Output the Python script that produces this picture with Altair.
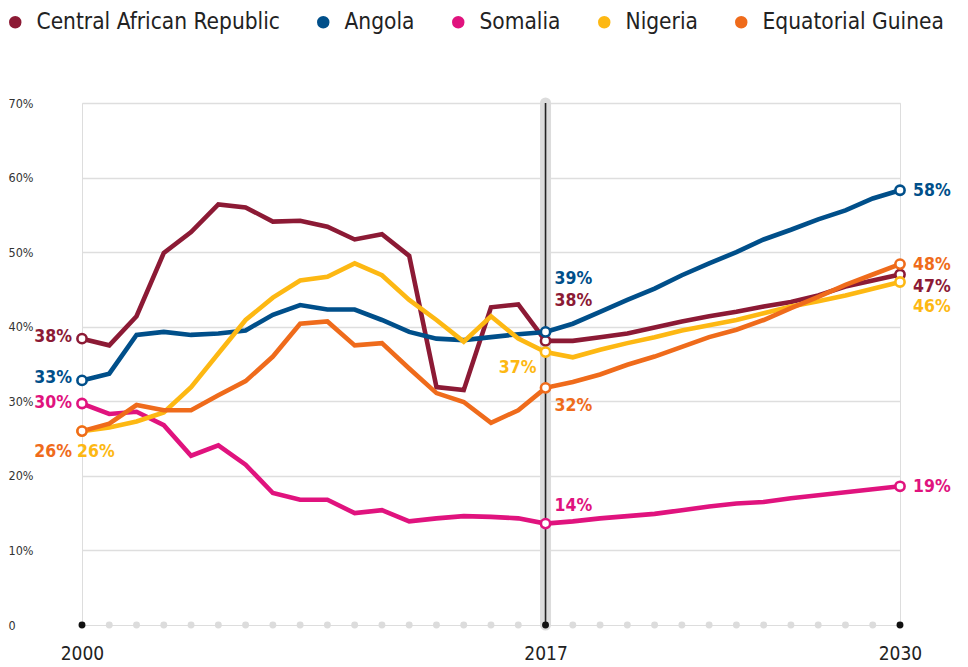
import altair as alt
import pandas as pd

# ---------------- data ----------------
years = list(range(2000, 2031))
countries = ["Central African Republic", "Angola", "Somalia", "Nigeria", "Equatorial Guinea"]
colors = ["#8c1a35", "#004f8a", "#e0137e", "#fdb813", "#ef6b1b"]

car = [38.4, 37.5, 41.4, 49.9, 52.7, 56.4, 56.0, 54.1, 54.2, 53.4, 51.7, 52.4, 49.5, 31.9, 31.5, 42.6,
       43.0, 38.1, 38.1, 38.6, 39.1, 39.9, 40.7, 41.4, 42.0, 42.7, 43.3, 44.2, 45.4, 46.2, 47.0]
angola = [32.8, 33.7, 38.9, 39.3, 38.9, 39.1, 39.5, 41.6, 42.9, 42.3, 42.3, 40.9, 39.3, 38.4, 38.2, 38.6,
          39.0, 39.3, 40.4, 42.0, 43.6, 45.1, 46.9, 48.5, 50.0, 51.7, 53.0, 54.4, 55.6, 57.2, 58.3]
somalia = [29.7, 28.3, 28.6, 26.8, 22.7, 24.1, 21.5, 17.7, 16.8, 16.8, 15.0, 15.4, 13.9, 14.3, 14.6, 14.5,
           14.3, 13.6, 13.9, 14.3, 14.6, 14.9, 15.4, 15.9, 16.3, 16.5, 17.0, 17.4, 17.8, 18.2, 18.6]
nigeria = [26.0, 26.5, 27.3, 28.5, 31.9, 36.4, 40.9, 43.9, 46.2, 46.7, 48.5, 46.9, 43.6, 40.9, 38.0, 41.4,
           38.4, 36.6, 35.9, 36.9, 37.8, 38.6, 39.5, 40.2, 40.9, 41.8, 42.7, 43.4, 44.2, 45.1, 46.0]
eq_guinea = [26.0, 27.0, 29.5, 28.8, 28.8, 30.8, 32.7, 36.0, 40.4, 40.7, 37.5, 37.8, 34.4, 31.1, 29.9, 27.1,
             28.8, 31.8, 32.6, 33.6, 34.9, 36.0, 37.3, 38.6, 39.6, 40.9, 42.5, 44.0, 45.6, 47.0, 48.4]

series = [car, angola, somalia, nigeria, eq_guinea]
key_years = [2000, 2017, 2030]
y_ticks = [0, 10, 20, 30, 40, 50, 60, 70]

rows = []
for c, vals in zip(countries, series):
    for yr, v in zip(years, vals):
        rows.append({"year": yr, "value": v, "country": c})
df = pd.DataFrame(rows)
dots_df = pd.DataFrame({"year": years, "value": [0] * len(years)})
band_df = pd.DataFrame({"year": [2017], "value": [0], "top": [70]})

# ---------------- style ----------------
FONT = "DejaVu Sans Condensed, DejaVu Sans"
color_scale = alt.Scale(domain=countries, range=colors)
x_scale = alt.Scale(domain=[2000, 2030], nice=False, zero=False)
y_scale = alt.Scale(domain=[0, 70], nice=False)

x_axis = alt.Axis(values=key_years, format="d", title=None, ticks=False, domain=False, grid=False,
                  labelFont=FONT, labelFontSize=19, labelColor="#222", labelPadding=19,
                  labelFlush=False, labelFontWeight="normal")
y_axis = alt.Axis(values=y_ticks, title=None, ticks=False, domain=False,
                  labelExpr="datum.value == 0 ? '0' : datum.value + '%'",
                  labelAlign="left", labelPadding=74, labelFont=FONT, labelFontSize=12.5,
                  labelColor="#333", labelBaseline="middle",
                  grid=True, gridColor={"condition": {"test": "datum.value === 0", "value": "transparent"},
                                        "value": "#dedede"},
                  gridWidth=1.3)

X = alt.X("year:Q", scale=x_scale, axis=x_axis)
Y = alt.Y("value:Q", scale=y_scale, axis=y_axis)

band = alt.Chart(band_df).mark_rule(strokeWidth=11, color="#dcdcdc", strokeCap="round").encode(
    x=X, y=Y, y2="top:Q")
band_line = alt.Chart(band_df).mark_rule(strokeWidth=1.6, color="#222").encode(
    x=X, y=Y, y2="top:Q")

dots = alt.Chart(dots_df).mark_point(filled=True, size=48, opacity=1).encode(
    x=X, y=Y,
    color=alt.condition("datum.year == 2000 || datum.year == 2017 || datum.year == 2030",
                        alt.value("#111"), alt.value("#dcdcdc")))

lines = alt.Chart(df).mark_line(strokeWidth=4.6, strokeJoin="miter").encode(
    x=X, y=Y,
    color=alt.Color("country:N", scale=color_scale, sort=countries,
                    legend=alt.Legend(orient="none", legendX=-78, legendY=-92, direction="horizontal",
                                      title=None, symbolType="circle", symbolSize=30,
                                      symbolStrokeWidth=7, labelLimit=400,
                                      labelFont=FONT, labelFontSize=22.5, labelColor="#222",
                                      labelOffset=10, columnPadding=26, padding=0)),
    detail="country:N")

ends = alt.Chart(df).transform_filter(
    alt.FieldOneOfPredicate(field="year", oneOf=key_years)
).mark_point(filled=True, fill="white", size=85, strokeWidth=2.6, opacity=1).encode(
    x=X, y=Y,
    stroke=alt.Stroke("country:N", scale=color_scale, legend=None))

# label placement (align, dx, dy) per country & key year
placements = [
    ("Central African Republic", 2000, "right", -10, -2),
    ("Angola", 2000, "right", -10, -2),
    ("Somalia", 2000, "right", -10, -1),
    ("Equatorial Guinea", 2000, "right", -10, 21),
    ("Nigeria", 2000, "left", -5, 21),
    ("Angola", 2017, "left", 9, -53),
    ("Central African Republic", 2017, "left", 9, -40),
    ("Nigeria", 2017, "right", -9, 16),
    ("Equatorial Guinea", 2017, "left", 9, 18),
    ("Somalia", 2017, "left", 9, -18),
    ("Angola", 2030, "left", 13, 1),
    ("Equatorial Guinea", 2030, "left", 13, 1),
    ("Central African Republic", 2030, "left", 13, 12),
    ("Nigeria", 2030, "left", 13, 25),
    ("Somalia", 2030, "left", 13, 1),
]

label_layers = []
for c, yr, al, dx, dy in placements:
    label_layers.append(
        alt.Chart(df).transform_filter(
            (alt.datum.country == c) & (alt.datum.year == yr)
        ).transform_calculate(
            label="format(datum.value, '.0f') + '%'"
        ).mark_text(font=FONT, fontSize=17.5, fontWeight="bold", align=al, baseline="middle",
                    dx=dx, dy=dy).encode(
            x=X, y=Y, text="label:N",
            color=alt.Color("country:N", scale=color_scale, legend=None))
    )

chart = alt.layer(band, band_line, dots, lines, ends, *label_layers).properties(
    width=818, height=522,
    autosize=alt.AutoSizeParams(type="none"),
    padding={"left": 74, "top": 95, "right": 60, "bottom": 40},
).configure_view(stroke=None).configure(background="white")

chart.save("out.html", embed_options={"renderer": "svg", "actions": False})
